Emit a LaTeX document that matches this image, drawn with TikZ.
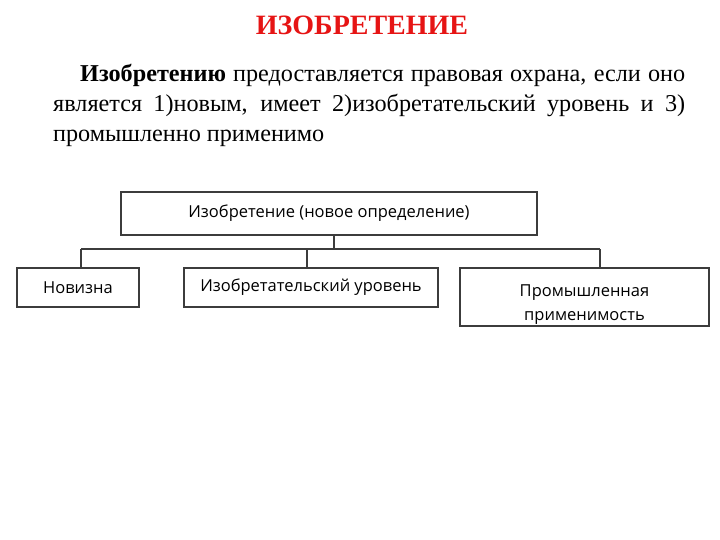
\documentclass[tikz,border=0pt]{standalone}
\usepackage{fontspec}
\setmainfont{Liberation Serif}
\newfontfamily\diagfont{Open Sans}
\usetikzlibrary{
    positioning,
    calc,
}
\definecolor{titlered}{RGB}{230,20,20}
\definecolor{boxline}{RGB}{60,60,60}
\tikzstyle{box}=[draw=boxline,rectangle,line width=1.2pt,font=\diagfont\fontsize{16.5}{24}\selectfont,align=center,inner sep=0pt]
\tikzstyle{link}=[draw=boxline,line width=1.2pt]

\begin{document}
\begin{tikzpicture}[x=1pt,y=-1pt]
    \useasboundingbox (0,0) rectangle (720,540);
    % heading and text
    \node[font=\bfseries\fontsize{28}{32}\selectfont,text=titlered] (title) at (362,25) {ИЗОБРЕТЕНИЕ};
    \node[text width=632pt,align=justify,inner sep=0pt,anchor=north west,font=\fontsize{24.2}{30}\selectfont] (text) at (53,64)
        {\hspace*{27pt}\textbf{Изобретению} предоставляется правовая охрана, если оно является 1)новым, имеет 2)изобретательский уровень и 3) промышленно применимо};
    % boxes
    \node[box,minimum width=416pt,minimum height=43pt] (top) at (329,213.5) {Изобретение (новое определение)};
    \node[box,minimum width=122pt,minimum height=39pt] (nov) at (78,287.5) {Новизна};
    \node[box,minimum width=254pt,minimum height=39pt] (lvl) at (311,287.5) {Изобретательский уровень};
    \node[box,minimum width=249pt,minimum height=58pt] (ind) at (584.5,297) {\mbox{}\\[2pt]Промышленная\\применимость};
    % connectors
    \coordinate (j0) at (334,249);
    \coordinate (j1) at (81,249);
    \coordinate (j2) at (307,249);
    \coordinate (j3) at (600,249);
    \draw[link] (top.south -| j0) -- (j0);
    \draw[link] (j1) -- (j3);
    \draw[link] (j1) -- (j1 |- nov.north);
    \draw[link] (j2) -- (j2 |- lvl.north);
    \draw[link] (j3) -- (j3 |- ind.north);
\end{tikzpicture}
\end{document}
